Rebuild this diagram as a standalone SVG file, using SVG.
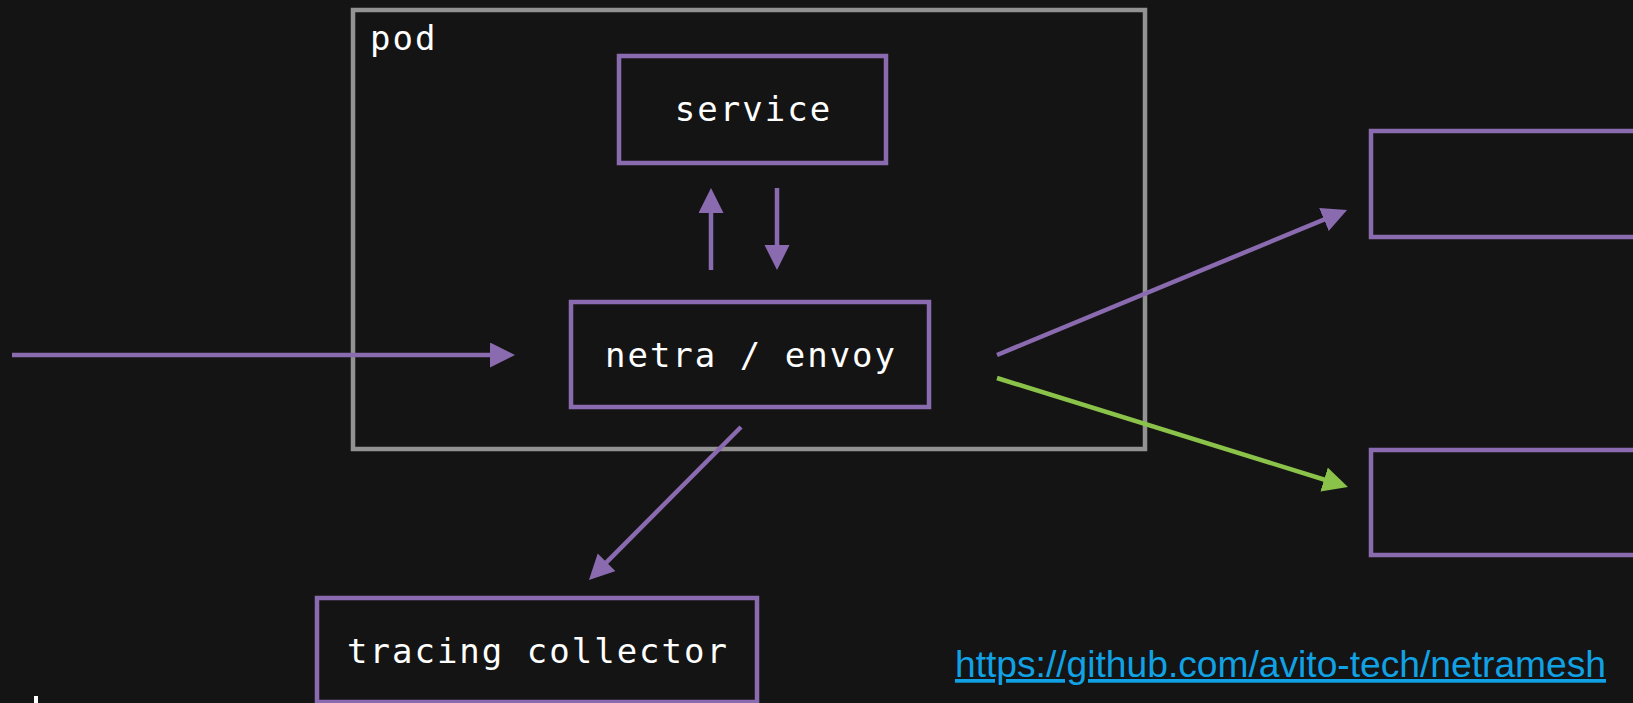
<svg xmlns="http://www.w3.org/2000/svg" width="1633" height="703" viewBox="0 0 1633 703">
<style>
.box{fill:none;stroke:#8a6bb0;stroke-width:4.5}
.pod{fill:none;stroke:#929292;stroke-width:4.5}
.lbl{font-family:"DejaVu Sans Mono","Liberation Mono",monospace;font-size:34px;letter-spacing:2px;fill:#ffffff}
.c{stroke:#8a6bb0;stroke-width:4.5;fill:none;marker-end:url(#ap)}
.g{stroke:#8bc34a;stroke-width:4.5;fill:none;marker-end:url(#ag)}
</style>
<defs>
<marker id="ap" markerUnits="userSpaceOnUse" markerWidth="26" markerHeight="26" refX="15" refY="12.5" orient="auto"><path d="M0,0 L25,12.5 L0,25 z" fill="#8a6bb0"/></marker>
<marker id="ag" markerUnits="userSpaceOnUse" markerWidth="26" markerHeight="26" refX="15" refY="12.5" orient="auto"><path d="M0,0 L25,12.5 L0,25 z" fill="#8bc34a"/></marker>
</defs>
<rect x="0" y="0" width="1633" height="703" fill="#141414"/>
<g id="pod">
<rect class="pod" x="353" y="10" width="792" height="439"/>
<text class="lbl" x="370" y="50">pod</text>
</g>
<g id="service">
<rect class="box" x="619" y="56" width="267" height="107"/>
<text class="lbl" x="753.5" y="121" text-anchor="middle">service</text>
</g>
<g id="netra">
<rect class="box" x="571" y="302" width="358" height="105"/>
<text class="lbl" x="751" y="367" text-anchor="middle">netra / envoy</text>
</g>
<g id="tracing">
<rect class="box" x="317" y="598" width="440" height="104"/>
<text class="lbl" x="538" y="663" text-anchor="middle">tracing collector</text>
</g>
<g id="dest1">
<rect class="box" x="1371" y="131" width="300" height="106"/>
</g>
<g id="dest2">
<rect class="box" x="1371" y="450" width="300" height="105"/>
</g>
<g id="connectors">
<line class="c" x1="12" y1="355" x2="505" y2="355"/>
<line class="c" x1="711" y1="270" x2="711" y2="198"/>
<line class="c" x1="777" y1="188" x2="777" y2="260"/>
<line class="c" x1="997" y1="355" x2="1337.8" y2="213.8"/>
<line class="g" x1="997" y1="378" x2="1338.4" y2="484"/>
<line class="c" x1="741" y1="427" x2="596" y2="572.9"/>
</g>
<g id="link">
<text x="955" y="677" font-family="'Liberation Sans',Arial,sans-serif" font-size="37" fill="#10a2e4" text-decoration="underline" textLength="651" lengthAdjust="spacingAndGlyphs">https://github.com/avito-tech/netramesh</text>
</g>
<rect x="34" y="696" width="4" height="7" fill="#ffffff"/>
</svg>
